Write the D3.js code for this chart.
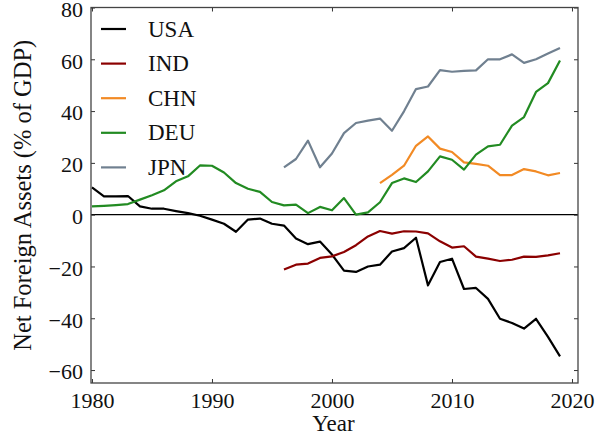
<!DOCTYPE html>
<html>
<head>
<meta charset="utf-8">
<script src="https://cdn.jsdelivr.net/npm/d3@7"></script>
<style>
  html, body { margin: 0; padding: 0; background: #fff; }
  svg { display: block; }
  text { font-family: "Liberation Serif", "Times New Roman", serif; fill: #111; }
</style>
</head>
<body>
<svg id="chart" width="604" height="440"></svg>
<script>
// ---------- data ----------
const yearsUSA = d3.range(1980, 2020);
const valuesUSA = [10.5, 7.1, 7.1, 7.2, 3.2, 2.3, 2.3, 1.4, 0.6, -0.4,
  -1.9, -3.5, -6.6, -1.9, -1.5, -3.5, -4.2, -9.2, -11.4, -10.4,
  -15.4, -21.6, -22.1, -20.0, -19.3, -14.2, -12.9, -8.9, -27.3, -18.3,
  -17.0, -28.7, -28.3, -32.5, -40.2, -41.8, -44.0, -40.2, -47.2, -54.7];

const yearsIND = d3.range(1996, 2020);
const valuesIND = [-21.2, -19.3, -18.9, -16.7, -16.1, -14.4, -11.8, -8.4, -6.3, -7.3,
  -6.4, -6.5, -7.2, -10.3, -12.7, -12.2, -16.2, -17.0, -17.9, -17.4,
  -16.2, -16.3, -15.7, -14.9];

const yearsCHN = d3.range(2004, 2020);
const valuesCHN = [12.2, 15.4, 18.9, 26.6, 30.2, 25.5, 24.2, 20.2, 19.6, 18.9,
  15.3, 15.3, 17.6, 16.7, 15.2, 16.1];

const yearsDEU = d3.range(1980, 2020);
const valuesDEU = [3.2, 3.4, 3.7, 4.1, 5.8, 7.5, 9.4, 12.9, 14.8, 19.0,
  18.9, 16.3, 12.2, 10.0, 8.8, 4.9, 3.6, 3.9, 0.6, 3.0,
  1.7, 6.4, 0.0, 0.9, 4.8, 12.2, 14.0, 12.6, 16.7, 22.5,
  21.2, 17.4, 23.2, 26.4, 27.0, 34.4, 37.7, 47.4, 50.8, 59.5];

const yearsJPN = d3.range(1996, 2020);
const valuesJPN = [18.3, 21.5, 28.6, 18.3, 23.6, 31.5, 35.4, 36.3, 37.1, 32.4,
  39.9, 48.5, 49.5, 55.8, 55.2, 55.5, 55.7, 60.0, 60.0, 61.9,
  58.6, 60.0, 62.2, 64.4];

const seriesNames = ["USA", "IND", "CHN", "DEU", "JPN"];
const seriesColors = ["#000000", "#8b0000", "#f28a24", "#228b22", "#708090"];
const xTicks = [1980, 1990, 2000, 2010, 2020];
const yTicks = [-60, -40, -20, 0, 20, 40, 60, 80];
const xLabel = "Year";
const yLabel = "Net Foreign Assets (% of GDP)";

// ---------- layout ----------
const svg = d3.select("#chart");
const L = 91, R = 578, T = 7.5, B = 383;
const x = d3.scaleLinear().domain([1979.92, 2020.5]).range([L, R]);
const y = d3.scaleLinear().domain([-65, 80]).range([B, T]);

const series = [
  {name: "USA", years: yearsUSA, values: valuesUSA},
  {name: "IND", years: yearsIND, values: valuesIND},
  {name: "CHN", years: yearsCHN, values: valuesCHN},
  {name: "DEU", years: yearsDEU, values: valuesDEU},
  {name: "JPN", years: yearsJPN, values: valuesJPN}
];
const color = d3.scaleOrdinal().domain(seriesNames).range(seriesColors);

// zero line
svg.append("line")
  .attr("x1", L).attr("x2", R).attr("y1", y(0)).attr("y2", y(0))
  .attr("stroke", "#000").attr("stroke-width", 1.1);

// lines
const line = d3.line().x(d => x(d[0])).y(d => y(d[1]));
const plot = svg.append("g");
series.forEach(s => {
  const pts = s.years.map((yr, i) => [yr, s.values[i]]);
  plot.append("path")
    .datum(pts)
    .attr("d", line)
    .attr("fill", "none")
    .attr("stroke", color(s.name))
    .attr("stroke-width", 2.2)
    .attr("stroke-linejoin", "round");
});

// axes (ticks inward)
const tickLen = 4;
const fs = 22;
const axBottom = svg.append("g").attr("transform", `translate(0,${B})`)
  .call(d3.axisBottom(x).tickValues(xTicks).tickFormat(d3.format("d"))
    .tickSizeInner(-tickLen).tickSizeOuter(0).tickPadding(9));
const axTop = svg.append("g").attr("transform", `translate(0,${T})`)
  .call(d3.axisTop(x).tickValues(xTicks).tickFormat("")
    .tickSizeInner(-tickLen).tickSizeOuter(0));
const fmtY = d => (d < 0 ? "\u2212" + Math.abs(d) : String(d));
const axLeft = svg.append("g").attr("transform", `translate(${L},0)`)
  .call(d3.axisLeft(y).tickValues(yTicks).tickFormat(fmtY)
    .tickSizeInner(-tickLen).tickSizeOuter(0).tickPadding(8));
const axRight = svg.append("g").attr("transform", `translate(${R},0)`)
  .call(d3.axisRight(y).tickValues(yTicks).tickFormat("")
    .tickSizeInner(-tickLen).tickSizeOuter(0));

[axBottom, axTop, axLeft, axRight].forEach(a => {
  a.select(".domain").remove();
  a.selectAll(".tick line").attr("stroke", "#333").attr("stroke-width", 1);
  a.selectAll("text").attr("font-size", fs)
    .attr("font-family", "Liberation Serif, serif").attr("fill", "#111");
});
axLeft.selectAll(".tick text").attr("dy", "0.4em");

// frame
svg.append("rect")
  .attr("x", L).attr("y", T).attr("width", R - L).attr("height", B - T)
  .attr("fill", "none").attr("stroke", "#444").attr("stroke-width", 1.3);

// axis labels
svg.append("text")
  .attr("x", (L + R) / 2 - 1).attr("y", 431)
  .attr("text-anchor", "middle").attr("font-size", 23)
  .text(xLabel);
svg.append("text")
  .attr("transform", `translate(31,${(T + B) / 2}) rotate(-90)`)
  .attr("text-anchor", "middle").attr("font-size", 24.5)
  .text(yLabel);

// legend
const legend = svg.append("g");
seriesNames.forEach((n, i) => {
  const yy = 29 + i * 34.6;
  legend.append("line")
    .attr("x1", 101).attr("x2", 126).attr("y1", yy).attr("y2", yy)
    .attr("stroke", color(n)).attr("stroke-width", 2.2);
  legend.append("text")
    .attr("x", 148).attr("y", yy + 7.5)
    .attr("font-size", 23)
    .text(n);
});
</script>
</body>
</html>
